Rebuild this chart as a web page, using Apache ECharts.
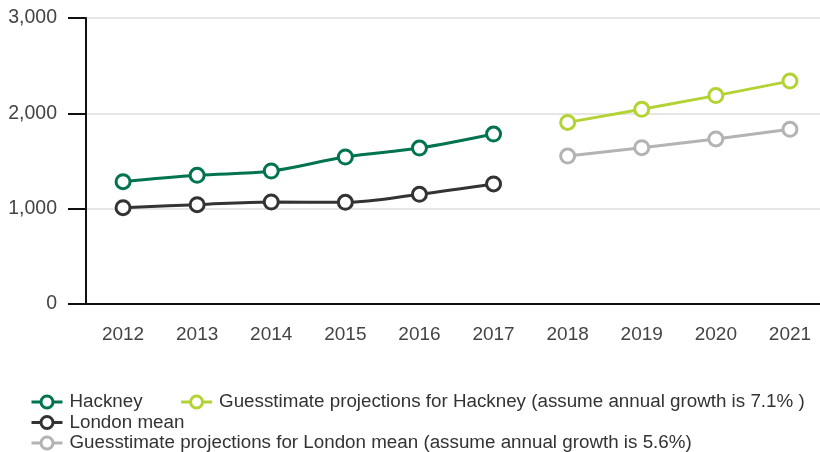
<!DOCTYPE html>
<html>
<head>
<meta charset="utf-8">
<script src="https://cdn.jsdelivr.net/npm/echarts@6/dist/echarts.min.js"></script>
<style>html,body{margin:0;padding:0;background:#fff;overflow:hidden;width:820px;height:452px;}#c{width:827px;height:452px;}</style>
</head>
<body>
<div id="c"></div>
<script>
var years = ['2012','2013','2014','2015','2016','2017','2018','2019','2020','2021'];
var hackney = [1283, 1350, 1395, 1542, 1636, 1783, null, null, null, null];
var londonMean = [1010, 1042, 1070, 1067, 1151, 1259, null, null, null, null];
var projHackney = [null, null, null, null, null, null, 1905, 2042, 2186, 2338];
var projLondon = [null, null, null, null, null, null, 1552, 1640, 1731, 1832];
var yTicks = [0, 1000, 2000, 3000];

var names = ['Hackney', 'London mean',
  'Guesstimate projections for Hackney (assume annual growth is 7.1% )',
  'Guesstimate projections for London mean (assume annual growth is 5.6%)'];
var colors = ['#00734f', '#333333', '#b3d334', '#b3b3b3'];
var datas = [hackney, londonMean, projHackney, projLondon];
var font = '"Liberation Sans", Arial, sans-serif';

var chart = echarts.init(document.getElementById('c'), null, {renderer: 'canvas'});
var legendBase = {
  orient: 'horizontal', itemWidth: 31, itemHeight: 15, itemGap: 37,
  textStyle: {fontFamily: font, fontSize: 18.8, color: '#333', padding: [0, 0, 0, 2]},
  itemStyle: {borderWidth: 3},
  lineStyle: {width: 3},
  padding: 0, selectedMode: false
};
chart.setOption({
  animation: false,
  grid: {left: 86, top: 18, right: 0, bottom: 148, containLabel: false},
  legend: [
    Object.assign({}, legendBase, {left: 30, top: 392.5, data: [names[0], names[2]]}),
    Object.assign({}, legendBase, {left: 30, top: 413, data: [names[1]]}),
    Object.assign({}, legendBase, {left: 30, top: 433.5, data: [names[3]]})
  ],
  xAxis: {
    type: 'category', data: years, boundaryGap: true,
    axisLine: {lineStyle: {color: '#111', width: 2}},
    axisTick: {alignWithLabel: true, length: 17, lineStyle: {color: '#111', width: 2}},
    axisLabel: {fontFamily: font, fontSize: 19, color: '#444', margin: 21},
    splitLine: {show: false}
  },
  yAxis: {
    type: 'value', min: yTicks[0], max: yTicks[yTicks.length - 1], interval: 1000,
    axisLine: {show: true, lineStyle: {color: '#111', width: 2}},
    axisTick: {show: true, length: 18, lineStyle: {color: '#111', width: 2}},
    axisLabel: {fontFamily: font, fontSize: 19.5, color: '#444', margin: 29,
      formatter: function (v) { return v.toLocaleString('en-US'); }},
    splitLine: {show: true, lineStyle: {color: '#e6e6e6', width: 2}}
  },
  series: datas.map(function (d, i) {
    return {
      name: names[i], type: 'line', data: d,
      smooth: i < 2 ? 0.35 : false,
      connectNulls: false,
      symbol: 'circle', symbolSize: 14, showSymbol: true,
      lineStyle: {color: colors[i], width: 3},
      itemStyle: {color: '#fff', borderColor: colors[i], borderWidth: 3},
      emphasis: {disabled: true},
      z: 10 - i
    };
  })
});
</script>
</body>
</html>
